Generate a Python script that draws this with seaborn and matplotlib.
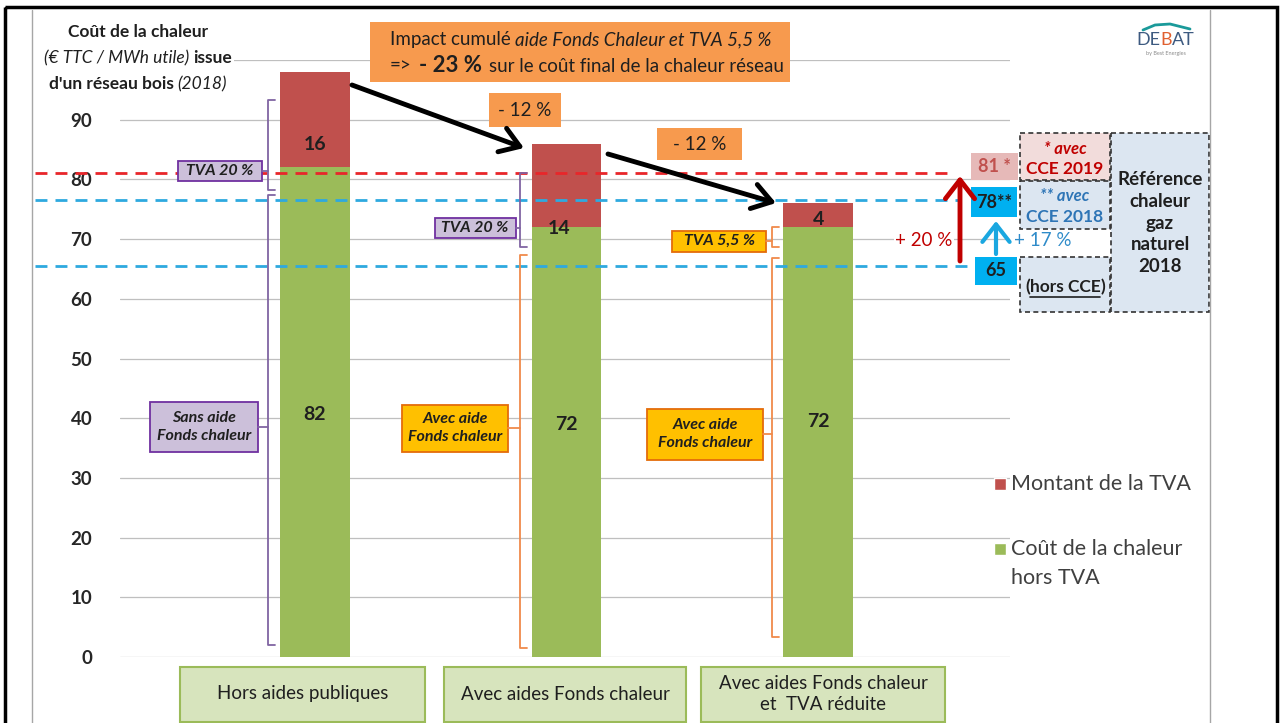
import matplotlib
matplotlib.use('Agg')
import matplotlib.pyplot as plt
import seaborn as sns
import pandas as pd
from matplotlib.patches import Rectangle

W, H = 1283, 723

# --- données ---
categories = ['Hors aides publiques', 'Avec aides Fonds chaleur',
              'Avec aides Fonds chaleur\net  TVA réduite']
cout_ht = [82, 72, 72]          # Coût de la chaleur hors TVA
tva = [16, 14, 4]               # Montant de la TVA
ref_gaz = [81, 76.5, 65.5]      # lignes pointillées (référence gaz naturel)
ref_labels = ['81 *', '78**', '65']
yticks = list(range(0, 101, 10))

RED = '#C0504D'
GREEN = '#9BBB59'
DARK = '#1F1F1F'

sns.set_theme(style='white')
plt.rcParams['font.family'] = ['Lato', 'DejaVu Sans']

df = pd.DataFrame({'cat': categories, 'ht': cout_ht, 'tva': tva})
df['total'] = df['ht'] + df['tva']

fig = plt.figure(figsize=(W / 100, H / 100), dpi=100)
fig.patch.set_facecolor('white')
ax = fig.add_axes([120 / W, 1 - 657 / H, 890 / W, 597 / H])

# barres empilées : total (TVA) puis hors TVA par-dessus
sns.barplot(data=df, x='cat', y='total', color=RED, width=0.275, saturation=1,
            linewidth=0, ax=ax, zorder=2)
sns.barplot(data=df, x='cat', y='ht', color=GREEN, width=0.275, saturation=1,
            linewidth=0, ax=ax, zorder=3)

ax.set_xlim(-0.775, 2.763)
ax.set_ylim(0, 100)
ax.set_yticks(yticks)
ax.set_yticklabels([str(v) if v < 100 else '' for v in yticks],
                   fontsize=13.5, fontweight='bold', color='#262626')
ax.tick_params(axis='y', length=0, pad=20)
ax.set_xticks([])
ax.set_xlabel('')
ax.set_ylabel('')
ax.yaxis.grid(True, color='#BFBFBF', lw=0.9)
ax.set_axisbelow(True)
for s in ax.spines.values():
    s.set_visible(False)

# lignes de référence gaz naturel
ref_colors = ['#E8262A', '#2EA9DF', '#2EA9DF']
ref_ends = [2.545, 2.56, 2.624]
for v, c, xe in zip(ref_gaz, ref_colors, ref_ends):
    ax.hlines(v, -1.113, xe, colors=c, linestyles=(0, (4.3, 2.9)), lw=2,
              clip_on=False, zorder=4)

# étiquettes des barres
for i, (h, t) in enumerate(zip(cout_ht, tva)):
    ax.text(i, [40.7, 39, 39.5][i], str(h), ha='center', va='center',
            fontsize=14, fontweight='bold', color=DARK, zorder=5)
    ax.text(i - [0, 0.03, 0][i], [85.8, 71.8, 73.3][i], str(t), ha='center', va='center',
            fontsize=14, fontweight='bold', color=DARK, zorder=5)

# --- calque d'annotations en pixels ---
ov = fig.add_axes([0, 0, 1, 1], zorder=5)
ov.set_xlim(0, W)
ov.set_ylim(H, 0)
ov.axis('off')
ov.patch.set_visible(False)
renderer = fig.canvas.get_renderer()


def box(x0, y0, x1, y1, fc, ec='none', lw=1.2, ls='-'):
    ov.add_patch(Rectangle((x0, y0), x1 - x0, y1 - y0, fc=fc, ec=ec, lw=lw, ls=ls))


def txt(x, y, s, **kw):
    kw.setdefault('color', DARK)
    return ov.text(x, y, s, ha='center', va='center', **kw)


def chain(y, pieces, xc=None, x0=None, gap=4):
    ts = []
    for s, kw in pieces:
        kw = dict(kw)
        kw.setdefault('color', DARK)
        ts.append(ov.text(0, y, s, ha='left', va='center', **kw))
    widths = [t.get_window_extent(renderer).width for t in ts]
    total = sum(widths) + gap * (len(ts) - 1)
    x = x0 if x0 is not None else xc - total / 2
    spans = []
    for t, w in zip(ts, widths):
        t.set_x(x)
        spans.append((x, x + w))
        x += w + gap
    return spans


def bracket(x, y0, y1, color, ym, xbox):
    ov.plot([x + 7, x, x, x + 7], [y0, y0, y1, y1], color=color, lw=1.3)
    ov.plot([xbox, x], [ym, ym], color=color, lw=1.3)


B = dict(fontweight='bold', fontsize=12.5)
I = dict(fontstyle='italic', fontsize=12.5)

# titre de l'axe
box(36, 14, 234, 96, 'white')
chain(32, [('Coût de la chaleur', B)], xc=138)
chain(58, [('(€ TTC / MWh utile)', I), ('issue', B)], xc=138)
chain(84, [("d'un réseau bois", B), ('(2018)', I)], xc=138)

# encadré orange
box(370, 22, 790, 82, '#F79A4E')
N = dict(fontsize=13.5)
chain(40, [('Impact cumulé', N), ('aide Fonds Chaleur et TVA 5,5 %', dict(fontsize=13.5, fontstyle='italic'))], x0=390)
chain(66, [('=>', N), ('- 23 %', dict(fontsize=16, fontweight='bold')),
           ('sur le coût final de la chaleur réseau', N)], x0=390, gap=7)
box(489, 93, 561, 127, '#F79A4E')
txt(525, 110, '- 12 %', fontsize=13.5)
box(657, 128, 742, 160, '#F79A4E')
txt(700, 144, '- 12 %', fontsize=13.5)

arr = dict(arrowstyle='->,head_length=0.45,head_width=0.3', lw=3.5, color='black',
           mutation_scale=30, shrinkA=0, shrinkB=0)
ov.annotate('', xy=(524, 148), xytext=(352, 85), arrowprops=arr)
ov.annotate('', xy=(776, 203), xytext=(608, 154), arrowprops=arr)

# crochets et étiquettes
PURPLE = '#8064A2'
ORANGE = '#F08A4B'
BI = dict(fontstyle='italic', fontweight='bold', fontsize=11.5)

bracket(268, 100, 190, PURPLE, 171, 262)
box(178, 161, 262, 181, '#CCC0DA', '#7030A0', lw=1.3)
txt(220, 171, 'TVA 20 %', **BI)
bracket(268, 195, 645, PURPLE, 427, 258)
box(150, 402, 258, 452, '#CCC0DA', '#7030A0', lw=1.3)
txt(204, 427, 'Sans aide\nFonds chaleur', linespacing=1.45, **BI)

bracket(520, 173, 247, PURPLE, 228, 516)
box(435, 218, 516, 238, '#CCC0DA', '#7030A0', lw=1.3)
txt(475, 228, 'TVA 20 %', **BI)
bracket(520, 255, 648, ORANGE, 428, 508)
box(402, 405, 508, 452, '#FFC000', '#E46C0A', lw=1.3)
txt(455, 428, 'Avec aide\nFonds chaleur', linespacing=1.45, **BI)

bracket(772, 227, 247, ORANGE, 241, 766)
box(672, 231, 766, 252, '#FFC000', '#E46C0A', lw=1.3)
txt(719, 241, 'TVA 5,5 %', **BI)
bracket(772, 258, 637, ORANGE, 434, 763)
box(647, 409, 763, 460, '#FFC000', '#E46C0A', lw=1.3)
txt(705, 434, 'Avec aide\nFonds chaleur', linespacing=1.45, **BI)

# catégories en bas
for (x0, x1), lab in zip([(180, 425), (444, 686), (701, 945)], categories):
    box(x0, 667, x1, 722, '#D7E4BD', GREEN, lw=1.5)
    txt((x0 + x1) / 2, 694, lab, fontsize=13.5, linespacing=1.3)

# légende
ov.add_patch(Rectangle((994, 478), 12, 12, fc=RED))
ov.add_patch(Rectangle((994, 543), 12, 12, fc=GREEN))
ov.text(1011, 484, 'Montant de la TVA', fontsize=15.5, color='#404040', va='center')
ov.text(1011, 549, 'Coût de la chaleur', fontsize=15.5, color='#404040', va='center')
ov.text(1011, 578, 'hors TVA', fontsize=15.5, color='#404040', va='center')

# références gaz naturel à droite
box(971, 153, 1018, 180, '#E6B9B8')
txt(994, 167, ref_labels[0], fontsize=13, fontweight='bold', color='#C0504D')
box(971, 187, 1017, 217, '#00B0F0')
txt(994, 202, ref_labels[1], fontsize=13, fontweight='bold')
box(975, 257, 1017, 285, '#00B0F0')
txt(996, 271, ref_labels[2], fontsize=13, fontweight='bold')

ov.annotate('', xy=(960, 176), xytext=(960, 261),
            arrowprops=dict(arrowstyle='->,head_length=0.45,head_width=0.35', lw=3.5,
                            color='#C00000', mutation_scale=30, shrinkA=0, shrinkB=0))
ov.annotate('', xy=(996, 221), xytext=(996, 254),
            arrowprops=dict(arrowstyle='->,head_length=0.45,head_width=0.35', lw=3,
                            color='#1AA7E0', mutation_scale=28, shrinkA=0, shrinkB=0))
txt(924, 240, '+ 20 %', fontsize=13.5, color='#C00000',
    bbox=dict(fc='white', ec='none', pad=1))
ov.text(1014, 240, '+ 17 %', fontsize=13.5, color='#2E8BC9', va='center', ha='left')

DASH = (0, (3, 2))
box(1020, 133, 1110, 180, '#F2DCDB', '#333333', lw=1.2, ls=DASH)
txt(1065, 149, '* avec', fontsize=12, fontstyle='italic', fontweight='bold', color='#C00000')
txt(1065, 169, 'CCE 2019', fontsize=12.5, fontweight='bold', color='#C00000')
box(1020, 181, 1110, 229, '#DCE6F1', '#333333', lw=1.2, ls=DASH)
txt(1065, 196, '** avec', fontsize=12, fontstyle='italic', fontweight='bold', color='#2E75B6')
txt(1065, 217, 'CCE 2018', fontsize=12.5, fontweight='bold', color='#2E75B6')
box(1020, 257, 1110, 312, '#DCE6F1', '#333333', lw=1.2, ls=DASH)
sp = chain(287, [('(', dict(fontsize=12.5, fontweight='bold')),
                 ('hors CCE', dict(fontsize=12.5, fontweight='bold')),
                 (')', dict(fontsize=12.5, fontweight='bold'))], xc=1065, gap=0)
ov.plot([sp[1][0], sp[1][1]], [297, 297], color=DARK, lw=1.2)
box(1111, 133, 1209, 312, '#DCE6F1', '#333333', lw=1.2, ls=DASH)
txt(1160, 223, 'Référence\nchaleur\ngaz\nnaturel\n2018', fontsize=13.5,
    fontweight='bold', linespacing=1.35)

# logo
sp = chain(40, [('DE', dict(fontsize=13, color='#3D5A80')),
                ('B', dict(fontsize=13, color='#E06030')),
                ('AT', dict(fontsize=13, color='#3D5A80'))], xc=1166, gap=0)
ov.plot([1143, 1155, 1170, 1190], [30, 25, 24, 29], color='#1A9A9A', lw=2)
txt(1166, 53, 'by Best Energies', fontsize=4, color='#8A8A8A')

# cadre
ov.add_patch(Rectangle((5, 7), 1272, 730, fill=False, ec='black', lw=2.5))
ov.plot([32, 32], [10, 723], color='#A6A6A6', lw=1)
ov.plot([1210, 1210], [10, 723], color='#A6A6A6', lw=1)

fig.savefig('out.png', dpi=100)
